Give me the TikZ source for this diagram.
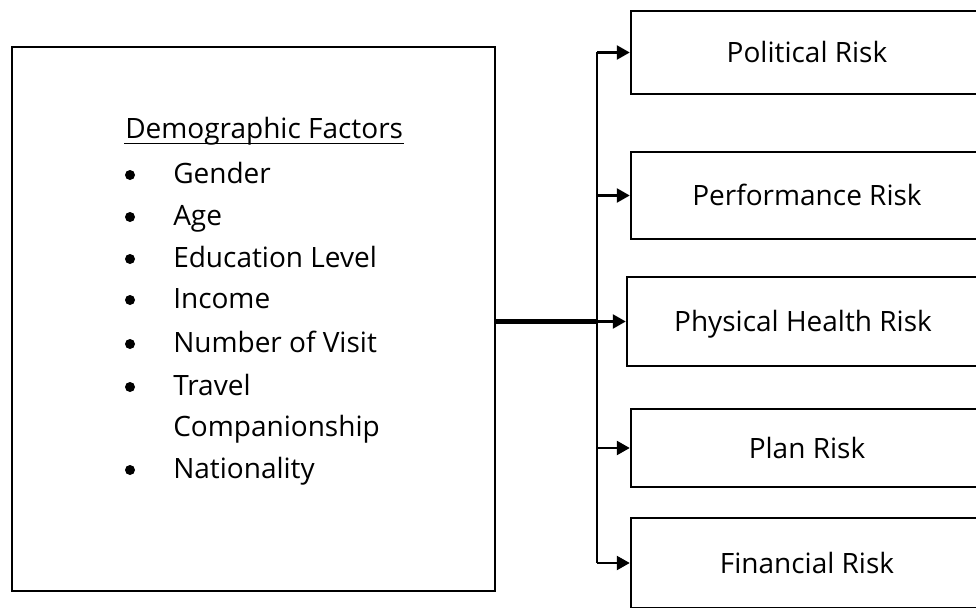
\documentclass[tikz,border=0pt]{standalone}
\usepackage{fontspec}
\setmainfont{Open Sans}
\usetikzlibrary{arrows.meta}
\begin{document}
\begin{tikzpicture}[x=1pt,y=-1pt,
  line width=2.5pt,
  riskbox/.style={draw, rectangle, minimum width=352pt, minimum height=#1,
    inner sep=0pt, text height=20pt, text depth=0pt,
    font=\fontsize{28}{33}\selectfont},
  listtext/.style={anchor=base west, inner sep=0pt, font=\fontsize{28}{33}\selectfont},
  bul/.style={circle, fill, inner sep=0pt, minimum size=10pt},
  link/.style={-{Triangle[length=13pt,width=14pt]}},
]
\useasboundingbox (0,0) rectangle (976,607);
\clip (0,0) rectangle (976,607);

% left box with the demographic factors
\node[draw, rectangle, minimum width=483pt, minimum height=544pt, inner sep=0pt] (demo) at (253.5,319) {};
\node[listtext] (title) at (124,139) {Demographic Factors};
\draw[line width=1.6pt] ([yshift=-4.5pt]title.base west) -- ([yshift=-4.5pt]title.base east);
\foreach \name/\txt/\yy/\b in {
    gen/Gender/183/1, age/Age/225/1, edu/Education Level/267/1,
    inc/Income/308/1, num/Number of Visit/352/1, tra/Travel/395/1,
    com/Companionship/436/0, nat/Nationality/478/1} {
  \node[listtext] (\name) at (172,\yy) {\txt};
  \ifnum\b=1 \node[bul] (b\name) at (130,\yy-8) {}; \fi
}

% risk boxes on the right
\node[riskbox=83pt] (pol) at (807,52.5) {Political Risk};
\node[riskbox=87pt] (perf) at (807,195.5) {Performance Risk};
\node[riskbox=89pt] (phys) at (803,321.5) {Physical Health Risk};
\node[riskbox=78pt] (plan) at (807,448) {Plan Risk};
\node[riskbox=90pt] (fin) at (807,563) {Financial Risk};

% distribution bus
\coordinate (t1) at (597,52.5);
\coordinate (t2) at (597,195.5);
\coordinate (t3) at (597,321.5);
\coordinate (t4) at (597,448);
\coordinate (t5) at (597,563);
\draw (t1) -- (t5);
\draw[line width=5.5pt] (demo.east |- t3) -- (t3);
\foreach \i/\n in {1/pol,2/perf,3/phys,4/plan,5/fin}
  \draw[link] (t\i) -- (\n.west);
\end{tikzpicture}
\end{document}
